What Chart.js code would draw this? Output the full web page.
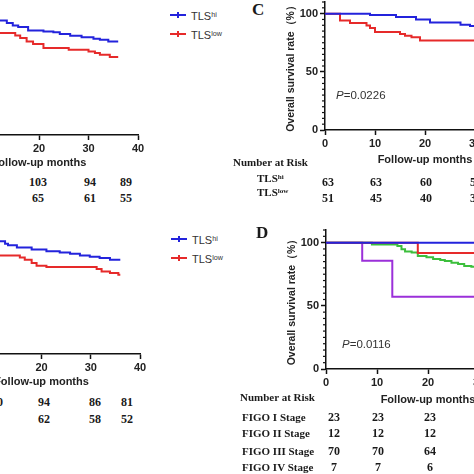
<!DOCTYPE html>
<html>
<head>
<meta charset="utf-8">
<script src="https://cdn.jsdelivr.net/npm/chart.js@4.4.0/dist/chart.umd.min.js"></script>
<style>
html, body { margin: 0; padding: 0; background: #fff; }
#page { position: relative; width: 474px; height: 474px; overflow: hidden; background: #fff; }
canvas { position: absolute; }
.t { position: absolute; white-space: nowrap; line-height: 1; }
.serif { font-family: "Liberation Serif", "Times New Roman", serif; font-weight: bold; color: #1a1a1a; }
.sans { font-family: "Liberation Sans", Arial, sans-serif; color: #333; }
.num { font-size: 12px; }
.lab { font-size: 11px; }
.pv { font-size: 11.5px; }
.leg { font-size: 11px; color: #333; }
.panel { font-size: 17px; }
sup { font-size: 65%; line-height: 0; position: relative; top: -0.45em; vertical-align: baseline; }
.legline { position: absolute; height: 2px; }
.legline i { position: absolute; left: 7px; top: -2px; width: 1.5px; height: 6px; }
</style>
</head>
<body>
<div id="page">
  <canvas id="chartA"></canvas>
  <canvas id="chartB"></canvas>
  <canvas id="chartC"></canvas>
  <canvas id="chartD"></canvas>
</div>
<script>
// ---- data ----
const yMajor = [0, 50, 100];

// top left panel, TLS hi / low (left part cut off)
const monthsAHi = [0, 8, 13.5, 14.7, 15.8, 17.8, 20.9, 22.9, 24.2, 26.3, 28.6, 31.0, 32.3, 34.0, 36];
const survAHi   = [100, 98.5, 96.3, 94.0, 92.8, 89.9, 89.0, 88.2, 86.8, 85.3, 83.9, 82.8, 81.9, 80.4, 80.4];
const monthsALow = [0, 6, 15.2, 16.2, 17.5, 18.8, 20.9, 26.0, 30.0, 31.3, 32.3, 34.3, 36];
const survALow   = [100, 87.7, 85.6, 83.4, 80.4, 78.2, 74.7, 73.3, 71.8, 70.4, 69.0, 67.0, 67.0];
const riskAHi  = [103, 94, 89];
const riskALow = [65, 61, 55];

// bottom left panel
const monthsBHi = [0, 8, 12.6, 13.2, 15.0, 18.0, 21.0, 23.7, 25.8, 27.8, 29.8, 31.8, 33.9, 36];
const survBHi   = [100, 96.8, 94.8, 93.4, 91.6, 89.7, 88.2, 87.3, 86.2, 84.7, 83.6, 82.5, 81.0, 81.0];
const monthsBLow = [0, 6, 15.6, 16.6, 18.0, 19.0, 21.0, 31.2, 32.2, 33.9, 35.6, 36];
const survBLow   = [100, 84.7, 83.0, 81.0, 78.2, 75.9, 74.7, 73.0, 71.0, 69.6, 68.1, 68.1];
const riskBHi  = [100, 94, 86, 81];
const riskBLow = [62, 58, 52];

// panel C
const monthsCHi = [0, 9, 14.2, 18.2, 21, 27.1, 29, 36];
const survCHi   = [100, 98.9, 97.2, 94.9, 92.4, 90.5, 89.4, 89.4];
const monthsCLow = [0, 3, 5, 8.3, 9, 10, 15, 16, 17.3, 19, 36];
const survCLow   = [100, 94.0, 92.0, 89.7, 87.6, 84.2, 82.5, 81.0, 79.6, 77.0, 77.0];
const riskCHi  = [63, 63, 60, 57];
const riskCLow = [51, 45, 40, 36];

// panel D, FIGO stages
const monthsD1 = [0, 36];
const survD1   = [100, 100];
const monthsD2 = [0, 18, 36];
const survD2   = [100, 91.7, 91.7];
const monthsD3 = [0, 9, 14, 14.8, 15.5, 16.8, 18, 19.7, 21, 22.4, 23.3, 24.6, 25.9, 27.1, 28.5, 36];
const survD3   = [100, 98.6, 97.4, 94.7, 92.9, 92.1, 89.4, 88.4, 87.0, 86.2, 85.4, 84.1, 83.1, 81.5, 81.0, 81.0];
const monthsD4 = [0, 7.1, 13, 36];
const survD4   = [100, 85.7, 57.1, 57.1];
const stageNames = ['FIGO I Stage', 'FIGO II Stage', 'FIGO III Stage', 'FIGO IV Stage'];
const riskD = [[23, 23, 23], [12, 12, 12], [70, 70, 64], [7, 7, 6]];

const BLUE = '#2323dc', RED = '#e62a2a', GREEN = '#3cbf3c', PURPLE = '#9b30d9';
const FONT = '"Liberation Sans", Arial, sans-serif';

// small minor ticks on the y axis every 5 %
const minorTicks = {
  id: 'minorTicks',
  afterDraw(chart) {
    const ys = chart.scales.y, ctx = chart.ctx;
    const x0 = chart.chartArea.left;
    ctx.save();
    ctx.strokeStyle = '#111';
    ctx.lineWidth = 1.2;
    for (let v = 5; v <= 110; v += 5) {
      if (v % 50 === 0) continue;
      const py = ys.getPixelForValue(v);
      ctx.beginPath();
      ctx.moveTo(x0 - 3, py);
      ctx.lineTo(x0, py);
      ctx.stroke();
    }
    ctx.restore();
  }
};

function survivalChart(id, area, xh, series) {
  const cv = document.getElementById(id);
  const yw = 40, padTop = 10, padRight = 20;
  const L = Math.round(area.left - yw), T = Math.round(area.top - padTop);
  cv.width = Math.round(area.right + padRight) - L;
  cv.height = Math.round(area.bottom + xh) - T;
  cv.style.left = L + 'px';
  cv.style.top = T + 'px';
  const tickFont = {family: FONT, size: 11, weight: 'bold'};
  return new Chart(cv, {
    type: 'line',
    data: {
      datasets: series.map(s => ({
        data: s.months.map((m, i) => ({x: m, y: s.surv[i]})),
        borderColor: s.color,
        borderWidth: 2,
        stepped: true,
        pointRadius: 0,
        fill: false
      }))
    },
    options: {
      responsive: false,
      animation: false,
      events: [],
      layout: {padding: {top: padTop, right: padRight, left: 0, bottom: 0}},
      plugins: {legend: {display: false}, tooltip: {enabled: false}},
      scales: {
        x: {
          type: 'linear', min: 0, max: 40,
          ticks: {stepSize: 10, padding: 2, color: '#222', font: tickFont},
          grid: {drawOnChartArea: false, tickLength: 5, tickWidth: 1.5, tickColor: '#111'},
          border: {color: '#111', width: 1.5},
          title: {display: true, text: 'Follow-up months', padding: 0, color: '#222',
                  font: {family: FONT, size: 11, weight: 'bold'}},
          afterFit: s => { s.height = xh; }
        },
        y: {
          type: 'linear', min: 0, max: 110,
          afterBuildTicks: s => { s.ticks = yMajor.map(v => ({value: v})); },
          ticks: {padding: 2, color: '#222', font: tickFont},
          grid: {drawOnChartArea: false, tickLength: 5, tickWidth: 1.5, tickColor: '#111'},
          border: {color: '#111', width: 1.5},
          title: {display: true, text: 'Overall survival rate（%）', padding: 0, color: '#222',
                  font: {family: FONT, size: 10.5, weight: 'bold'}},
          afterFit: s => { s.width = yw; }
        }
      }
    },
    plugins: [minorTicks]
  });
}

survivalChart('chartA', {left: -60, right: 138, top: 7.4, bottom: 135}, 35, [
  {months: monthsAHi, surv: survAHi, color: BLUE},
  {months: monthsALow, surv: survALow, color: RED}
]);
survivalChart('chartB', {left: -57, right: 140.2, top: 226.4, bottom: 354}, 35, [
  {months: monthsBHi, surv: survBHi, color: BLUE},
  {months: monthsBLow, surv: survBLow, color: RED}
]);
survivalChart('chartC', {left: 325, right: 525, top: 2.4, bottom: 130}, 37, [
  {months: monthsCHi, surv: survCHi, color: BLUE},
  {months: monthsCLow, surv: survCLow, color: RED}
]);
survivalChart('chartD', {left: 326, right: 530, top: 230.4, bottom: 369}, 38, [
  {months: monthsD1, surv: survD1, color: BLUE},
  {months: monthsD2, surv: survD2, color: RED},
  {months: monthsD3, surv: survD3, color: GREEN},
  {months: monthsD4, surv: survD4, color: PURPLE}
]);

// ---- text overlays ----
const page = document.getElementById('page');
function addText(html, x, y, cls, align) {
  const d = document.createElement('div');
  d.className = 't ' + cls;
  d.innerHTML = html;
  d.style.left = x + 'px';
  d.style.top = y + 'px';
  d.style.transform = align === 'center' ? 'translate(-50%,-50%)' : 'translateY(-50%)';
  page.appendChild(d);
}
function addLegend(color, x, y, html) {
  const l = document.createElement('div');
  l.className = 'legline';
  l.style.left = x + 'px';
  l.style.top = (y - 1) + 'px';
  l.style.width = '16px';
  l.style.background = color;
  l.innerHTML = '<i style="background:' + color + '"></i>';
  page.appendChild(l);
  addText(html, x + 21, y + 1, 'sans leg');
}
function riskRow(values, xs, y) {
  values.forEach((v, i) => addText(String(v), xs[i], y, 'serif num', 'center'));
}

// top left
addLegend(BLUE, 170, 15, 'TLS<sup>hi</sup>');
addLegend(RED, 170, 34, 'TLS<sup>low</sup>');
riskRow(riskAHi, [38, 90, 126], 182);
riskRow(riskALow, [38, 90, 126], 198);

// bottom left
addLegend(BLUE, 171, 239, 'TLS<sup>hi</sup>');
addLegend(RED, 171, 258, 'TLS<sup>low</sup>');
riskRow(riskBHi, [-6, 44, 95, 127], 402);
riskRow(riskBLow, [44, 95, 127], 419);

// panel C
addText('C', 252, 9, 'serif panel');
addText('<i>P</i>=0.0226', 336, 96, 'sans pv');
addText('Number at Risk', 233, 162, 'serif lab');
addText('TLS<sup>hi</sup>', 257, 178, 'serif lab');
addText('TLS<sup>low</sup>', 257, 192, 'serif lab');
riskRow(riskCHi, [328, 376, 426, 476], 182);
riskRow(riskCLow, [328, 376, 426, 476], 198);

// panel D
addText('D', 256, 232, 'serif panel');
addText('<i>P</i>=0.0116', 342, 345, 'sans pv');
addText('Number at Risk', 240, 397, 'serif lab');
const rowY = [417, 433, 451, 467];
stageNames.forEach((n, i) => {
  addText(n, 242, rowY[i], 'serif lab');
  riskRow(riskD[i], [334, 378, 430], rowY[i]);
});
</script>
</body>
</html>
